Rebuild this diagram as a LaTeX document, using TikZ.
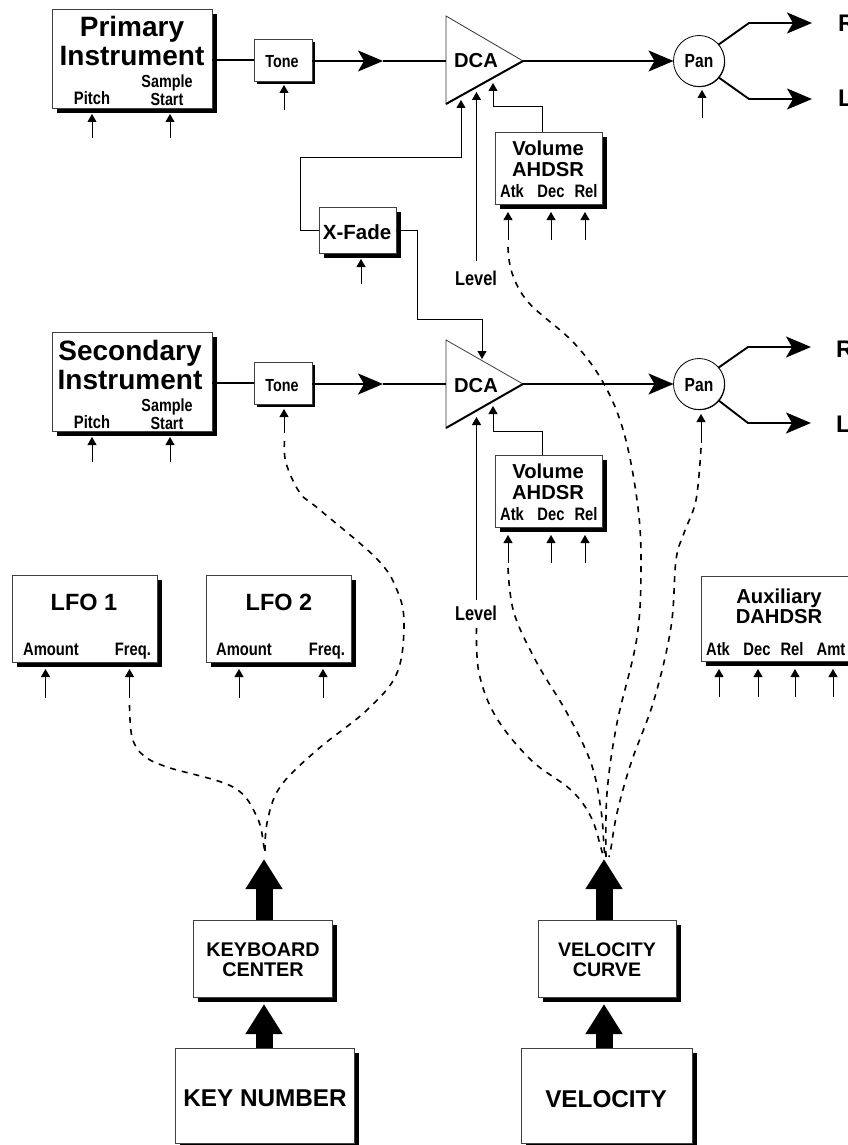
\documentclass[tikz,border=0pt]{standalone}
\usepackage{fontspec}
\setmainfont{Liberation Sans}
\newfontfamily\cf[FakeStretch=0.82]{Liberation Sans}
\usetikzlibrary{arrows.meta,shadows}
\newcommand{\fz}[2]{\fontsize{#1}{#2}\selectfont}
\tikzset{
  x=1pt,y=-1pt,
  boxa/.style={draw=black!75,fill=white,line width=.8pt,inner sep=0pt,outer sep=0pt,
    drop shadow={shadow xshift=4.5pt,shadow yshift=-5pt,fill=black,opacity=1}},
  boxb/.style={draw=black!75,fill=white,line width=.8pt,inner sep=0pt,outer sep=0pt,
    drop shadow={shadow xshift=3pt,shadow yshift=-3pt,fill=black,opacity=1}},
  pancirc/.style={circle,draw=black,fill=white,line width=.8pt,inner sep=0pt,outer sep=0pt,minimum size=51pt,
    drop shadow={shadow xshift=.7pt,shadow yshift=-.7pt,fill=black,opacity=1}},
  dcatri/.style={draw=black!80,fill=white,line width=.8pt,line join=miter},
  dcabase/.style={draw=black,line width=2pt},
  lab/.style={inner sep=0pt,outer sep=0pt,anchor=base,align=center,text=black},
  xl/.style={lab,font=\bfseries\fz{28}{29}},
  lg/.style={lab,font=\bfseries\fz{20.2}{21}},
  lfo/.style={lab,font=\bfseries\fz{23.5}{24}},
  knum/.style={lab,font=\bfseries\fz{24.3}{26}},
  sm/.style={lab,font=\cf\bfseries\fz{18}{18}},
  sam/.style={lab,font=\cf\bfseries\fz{17.5}{18}},
  lev/.style={lab,font=\cf\bfseries\fz{20}{20}},
  pantxt/.style={lab,font=\cf\bfseries\fz{19}{19}},
  thin arrow/.style={draw=black,line width=.9pt,-{Triangle[length=8pt,width=9pt]}},
  thin line/.style={draw=black,line width=.9pt},
  main line/.style={draw=black,line width=1.9pt},
  main arrow/.style={draw=black,line width=1.9pt,-{Stealth[length=25pt,width=21pt,inset=6pt]}},
  dash curve/.style={draw=black,line width=1.6pt,dash pattern=on 6pt off 6pt},
  big arrow/.style={draw=black,line width=17pt,-{Triangle[length=30pt,width=35pt]}},
}
% incoming control arrow: name, x, tip y, tail y
\newcommand{\inarrow}[4]{%
  \coordinate (#1h) at (#2,#3);
  \coordinate (#1t) at (#2,#4);
  \draw[thin arrow] (#1t) -- (#1h);}
\begin{document}
\begin{tikzpicture}
\useasboundingbox (0,0) rectangle (848,1145);
% ---------- boxes ----------
\node[boxa,minimum width=160pt,minimum height=99pt] (prim) at (132,58.5) {};
\node[boxa,minimum width=160pt,minimum height=99pt] (sec) at (132,381.5) {};
\node[boxb,minimum width=58pt,minimum height=42pt] (tone1) at (283,60) {};
\node[boxb,minimum width=58pt,minimum height=42pt] (tone2) at (283,383) {};
\node[boxa,minimum width=77pt,minimum height=46pt] (xfade) at (357.5,230) {};
\node[boxa,minimum width=107pt,minimum height=72pt] (vol1) at (548.5,168) {};
\node[boxa,minimum width=107pt,minimum height=72pt] (vol2) at (548.5,491) {};
\node[boxa,minimum width=145pt,minimum height=87pt] (lfo1) at (84.5,618.5) {};
\node[boxa,minimum width=145pt,minimum height=87pt] (lfo2) at (278.5,618.5) {};
\node[boxa,minimum width=165pt,minimum height=85pt] (aux) at (783.5,618.5) {};
\node[boxa,minimum width=139pt,minimum height=77pt] (kbd) at (262.5,958.5) {};
\node[boxa,minimum width=138pt,minimum height=77pt] (vcurve) at (607,958.5) {};
\node[boxa,minimum width=179pt,minimum height=95pt] (keynum) at (264.5,1095.5) {};
\node[boxa,minimum width=171pt,minimum height=95pt] (vel) at (606.5,1095.5) {};
% ---------- DCA triangles ----------
\coordinate (d1w) at (446,61);  \coordinate (d1e) at (523,61);
\coordinate (d1t) at (446,16);  \coordinate (d1b) at (446,104);
\coordinate (d2w) at (446,384); \coordinate (d2e) at (523,384);
\coordinate (d2t) at (446,340); \coordinate (d2b) at (446,428);
\draw[dcatri] (d1t) -- (d1e) -- (d1b) -- cycle;
\draw[dcabase] (d1b) -- (d1e);
\draw[dcatri] (d2t) -- (d2e) -- (d2b) -- cycle;
\draw[dcabase] (d2b) -- (d2e);
% ---------- pan ----------
\node[pancirc] (pan1) at (699,61) {};
\node[pancirc] (pan2) at (699,384) {};
% ---------- text ----------
\node[xl] (tprim) at (132,66) {Primary\\Instrument};
\node[xl] (tsec) at (130,389) {Secondary\\Instrument};
\node[sm] (tp1) at (92,105) {Pitch};
\node[sam] (ts1) at (167,106) {Sample\\Start};
\node[sm] (tp2) at (92,428) {Pitch};
\node[sam] (ts2) at (167,429) {Sample\\Start};
\node[sam] (tt1) at (282,68) {Tone};
\node[sam] (tt2) at (282,391) {Tone};
\node[lg,font=\bfseries\fz{20.5}{21}] (txf) at (357,239) {X-Fade};
\node[lg] (td1) at (476,68) {DCA};
\node[lg] (td2) at (476,392) {DCA};
\node[pantxt] (tpan1) at (699,68) {Pan};
\node[pantxt] (tpan2) at (699,391) {Pan};
\node[lg] (tv1) at (548,176) {Volume\\AHDSR};
\node[lg] (tv2) at (548,499) {Volume\\AHDSR};
\node[sm] (ta1) at (512,197) {Atk};
\node[sm] (tb1) at (551,197) {Dec};
\node[sm] (tc1) at (586,197) {Rel};
\node[sm] (ta2) at (512,520) {Atk};
\node[sm] (tb2) at (551,520) {Dec};
\node[sm] (tc2) at (586,520) {Rel};
\node[lev] (tl1) at (476,285) {Level};
\node[lev] (tl2) at (476,620) {Level};
\node[lfo] (tlf1) at (84,610) {LFO 1};
\node[lfo] (tlf2) at (279,610) {LFO 2};
\node[sm] (tam1) at (51,655) {Amount};
\node[sm] (tfr1) at (133,655) {Freq.};
\node[sm] (tam2) at (244,655) {Amount};
\node[sm] (tfr2) at (327,655) {Freq.};
\node[lg,font=\bfseries\fz{20.2}{20}] (taux) at (779,623) {Auxiliary\\DAHDSR};
\node[sm] (tx1) at (718,655) {Atk};
\node[sm] (tx2) at (757,655) {Dec};
\node[sm] (tx3) at (792,655) {Rel};
\node[sm] (tx4) at (831,655) {Amt};
\node[lg,font=\bfseries\fz{19.8}{20}] (tkc) at (263,976) {KEYBOARD\\CENTER};
\node[lg,font=\bfseries\fz{19.6}{20}] (tvc) at (607,976) {VELOCITY\\CURVE};
\node[knum] (tkn) at (265,1106) {KEY NUMBER};
\node[knum] (tvl) at (606,1107) {VELOCITY};
\node[lg,anchor=base west,font=\bfseries\fz{24}{24}] (outR1) at (838,32) {R};
\node[lg,anchor=base west,font=\bfseries\fz{24}{24}] (outL1) at (838,107) {L};
\node[lg,anchor=base west,font=\bfseries\fz{24}{24}] (outR2) at (836,357) {R};
\node[lg,anchor=base west,font=\bfseries\fz{24}{24}] (outL2) at (836,432) {L};
% ---------- signal path ----------
\coordinate (m1) at (383,61);
\coordinate (m2) at (383,384);
\draw[main line] (prim.east |- tone1.west) -- (tone1.west);
\draw[main line] (sec.east |- tone2.west) -- (tone2.west);
\draw[main arrow] (tone1.east |- m1) -- (m1);
\draw[main line] (m1) -- (d1w);
\draw[main arrow] (tone2.east |- m2) -- (m2);
\draw[main line] (m2) -- (d2w);
\draw[main arrow] (d1e) -- (pan1.west);
\draw[main arrow] (d2e) -- (pan2.west);
\coordinate (r1j) at (749,23);  \coordinate (r1t) at (812,23);
\coordinate (l1j) at (749,99);  \coordinate (l1t) at (812,99);
\coordinate (r2j) at (748,347); \coordinate (r2t) at (811,347);
\coordinate (l2j) at (748,423); \coordinate (l2t) at (811,423);
\draw[main arrow] (pan1.40) -- (r1j) -- (r1t);
\draw[main arrow] (pan1.-40) -- (l1j) -- (l1t);
\draw[main arrow] (pan2.40) -- (r2j) -- (r2t);
\draw[main arrow] (pan2.-40) -- (l2j) -- (l2t);
% ---------- thin routed connectors ----------
\coordinate (xa) at (300,157); \coordinate (xb) at (461,100);
\draw[thin arrow] (xfade.west) -| (xa) -| (xb);
\coordinate (xc) at (417,319); \coordinate (xd) at (482,359);
\draw[thin line] (xfade.east) -| (xc);
\draw[thin arrow] (xc) -| (xd);
\coordinate (v1a) at (542,106); \coordinate (v1b) at (493,83);
\draw[thin arrow] (vol1.north -| v1a) -- (v1a) -| (v1b);
\coordinate (v2a) at (542,431); \coordinate (v2b) at (493,406);
\draw[thin arrow] (vol2.north -| v2a) -- (v2a) -| (v2b);
% ---------- control inputs ----------
\inarrow{pa}{92}{114}{138}
\inarrow{sa}{170}{114}{138}
\inarrow{pb}{92}{437}{462}
\inarrow{sb}{170}{437}{462}
\inarrow{to}{284}{85}{110}
\inarrow{tp}{284}{409}{433}
\inarrow{xf}{361}{259}{284}
\inarrow{la}{476.5}{92}{261}
\inarrow{lb}{476.5}{417}{600}
\inarrow{aa}{508}{212}{240}
\inarrow{ba}{551}{212}{240}
\inarrow{ca}{585}{212}{240}
\inarrow{ab}{508}{535}{563}
\inarrow{bb}{551}{535}{563}
\inarrow{cb}{585}{535}{563}
\inarrow{pn}{702}{90}{118}
\inarrow{po}{701}{414}{443}
\inarrow{fa}{45.5}{669}{698}
\inarrow{fb}{129.5}{669}{698}
\inarrow{fc}{239}{669}{698}
\inarrow{fd}{323}{669}{698}
\inarrow{da}{719}{669}{697}
\inarrow{db}{758}{669}{697}
\inarrow{dc}{795}{669}{697}
\inarrow{dd}{833}{669}{697}
% ---------- big arrows ----------
\coordinate (k1) at (264,859);  \coordinate (k2) at (264,1004);
\coordinate (v1) at (604,859);  \coordinate (v2) at (604,1004);
\draw[big arrow] (kbd.north -| k1) -- (k1);
\draw[big arrow] (keynum.north -| k2) -- (k2);
\draw[big arrow] (vcurve.north -| v1) -- (v1);
\draw[big arrow] (vel.north -| v2) -- (v2);
% ---------- dashed curves ----------
\coordinate (ko) at (265,855);
\coordinate (vo) at (605,857);
\draw[dash curve] plot[smooth,tension=.6] coordinates {(129.5,705) (132,737) (143,755) (167,767) (233,787) (257,817) (264,847) (ko)};
\draw[dash curve] plot[smooth,tension=.6] coordinates {(284.5,441) (286,463) (300,493) (320,510) (377,559) (397,590) (404,623) (397,673) (367,710) (317,750) (280,787) (267,823) (ko)};
\draw[dash curve] plot[smooth,tension=.6] coordinates {(476.5,628) (479,673) (496,717) (531,760) (571,790) (591,817) (601,848) (603,857)};
\draw[dash curve] plot[smooth,tension=.6] coordinates {(508,568) (514,613) (537,663) (567,713) (591,763) (601,810) (604,847) (vo)};
\draw[dash curve] plot[smooth,tension=.6] coordinates {(508,247) (512,273) (529,303) (574,343) (604,384) (624,433) (637,500) (641,560) (637,637) (617,723) (607,793) (606,857)};
\draw[dash curve] plot[smooth,tension=.6] coordinates {(701,448) (696,500) (684,533) (676,560) (671,627) (654,700) (631,763) (617,813) (611,848) (609,857)};
\end{tikzpicture}
\end{document}
